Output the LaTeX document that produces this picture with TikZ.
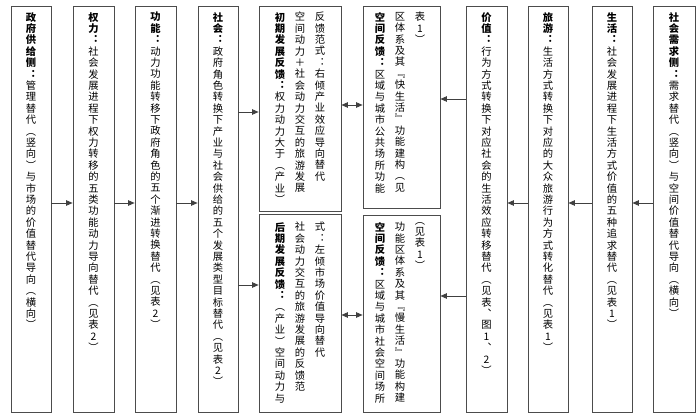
\documentclass[tikz,border=0pt]{standalone}
\usepackage{fontspec}
\newfontfamily\cjk{Noto Sans CJK SC}
\usetikzlibrary{arrows.meta}

% one vertical column of characters: bold part, then normal part
\ExplSyntaxOn
\NewDocumentCommand\vcol{mm}{
  \tl_map_inline:nn {#1} {{\bfseries ##1}\\}
  \tl_map_inline:nn {#2} {##1\\}
}
\ExplSyntaxOff

\begin{document}
\begin{tikzpicture}[x=1pt,y=-1pt,
  box/.style={draw=black!70,line width=.8pt,inner sep=0pt},
  col/.style={anchor=north,inner sep=0pt,align=center,text=black,
    font=\cjk\fontsize{10.3}{11.4}\selectfont},
  arr/.style={draw=black!75,line width=.7pt,-{Triangle[length=6.5pt,width=5.5pt]}},
  dbl/.style={draw=black!75,line width=.7pt,{Triangle[length=6.5pt,width=5.5pt]}-{Triangle[length=6.5pt,width=5.5pt]}}]
  \useasboundingbox (0,0) rectangle (700,419);

  % full-height boxes
  \foreach \n/\x/\w in {b1/31/40,b2/93.5/41,b3/155.5/41,b4/218/40,b7/486.5/41,b8/548/40,b9/612/40,b10/674/42}{
    \node[box,minimum width=\w pt,minimum height=406pt] (\n) at (\x,209) {};
  }
  % split boxes
  \node[box,minimum width=82pt,minimum height=205pt] (b5a) at (300,108.5) {};
  \node[box,minimum width=82pt,minimum height=198pt] (b5b) at (300,313) {};
  \node[box,minimum width=77pt,minimum height=202pt] (b6a) at (401.5,107) {};
  \node[box,minimum width=77pt,minimum height=197pt] (b6b) at (401.5,313.5) {};

  % texts
  \node[col] (t1) at (31,12) {\vcol{政府供给侧︓}{管理替代︵竖向︶与市场的价值替代导向︵横向︶}};
  \node[col] (t2) at (93.5,12) {\vcol{权力︓}{社会发展进程下权力转移的五类功能动力导向替代︵见表2︶}};
  \node[col] (t3) at (155.5,12) {\vcol{功能︓}{动力功能转移下政府角色的五个渐进转换替代︵见表2︶}};
  \node[col] (t4) at (218,12) {\vcol{社会︓}{政府角色转换下产业与社会供给的五个发展类型目标替代︵见表2︶}};

  \node[col] (t5a1) at (280,12) {\vcol{初期发展反馈︓}{权力动力大于︵产业︶}};
  \node[col] (t5a2) at (300,12) {\vcol{}{空间动力＋社会动力交互的旅游发展}};
  \node[col] (t5a3) at (320,12) {\vcol{}{反馈范式︓右倾产业效应导向替代}};
  \node[col] (t5b1) at (280,222) {\vcol{后期发展反馈︓}{︵产业︶空间动力与}};
  \node[col] (t5b2) at (300,222) {\vcol{}{社会动力交互的旅游发展的反馈范}};
  \node[col] (t5b3) at (320,222) {\vcol{}{式︓左倾市场价值导向替代}};

  \node[col] (t6a1) at (380,12) {\vcol{空间反馈︓}{区域与城市公共场所功能}};
  \node[col] (t6a2) at (400,12) {\vcol{}{区体系及其﹃快生活﹄功能建构︵见}};
  \node[col] (t6a3) at (420,12) {\vcol{}{表1︶}};
  \node[col] (t6b1) at (380,222) {\vcol{空间反馈︓}{区域与城市社会空间场所}};
  \node[col] (t6b2) at (400,222) {\vcol{}{功能区体系及其﹃慢生活﹄功能构建}};
  \node[col] (t6b3) at (420,222) {\vcol{}{︵见表1︶}};

  \node[col] (t7) at (486.5,12) {\vcol{价值︓}{行为方式转换下对应社会的生活效应转移替代︵见表︑图1︑2︶}};
  \node[col] (t8) at (548,12) {\vcol{旅游︓}{生活方式转换下对应的大众旅游行为方式转化替代︵见表1︶}};
  \node[col] (t9) at (612,12) {\vcol{生活︓}{社会发展进程下生活方式价值的五种追求替代︵见表1︶}};
  \node[col] (t10) at (674,12) {\vcol{社会需求侧︓}{需求替代︵竖向︶与空间价值替代导向︵横向︶}};

  % connectors
  \draw[arr] (b1.east |- 0,203) -- (b2.west |- 0,203);
  \draw[arr] (b2.east |- 0,203) -- (b3.west |- 0,203);
  \draw[arr] (b3.east |- 0,203) -- (b4.west |- 0,203);
  \draw[arr] (b4.east |- 0,112) -- (b5a.west |- 0,112);
  \draw[arr] (b4.east |- 0,285) -- (b5b.west |- 0,285);
  \draw[dbl] (b5a.east |- 0,105) -- (b6a.west |- 0,105);
  \draw[dbl] (b5b.east |- 0,315) -- (b6b.west |- 0,315);
  \draw[arr] (b7.west |- 0,99) -- (b6a.east |- 0,99);
  \draw[arr] (b7.west |- 0,296) -- (b6b.east |- 0,296);
  \draw[arr] (b8.west |- 0,203) -- (b7.east |- 0,203);
  \draw[arr] (b9.west |- 0,203) -- (b8.east |- 0,203);
  \draw[arr] (b10.west |- 0,203) -- (b9.east |- 0,203);
\end{tikzpicture}
\end{document}
